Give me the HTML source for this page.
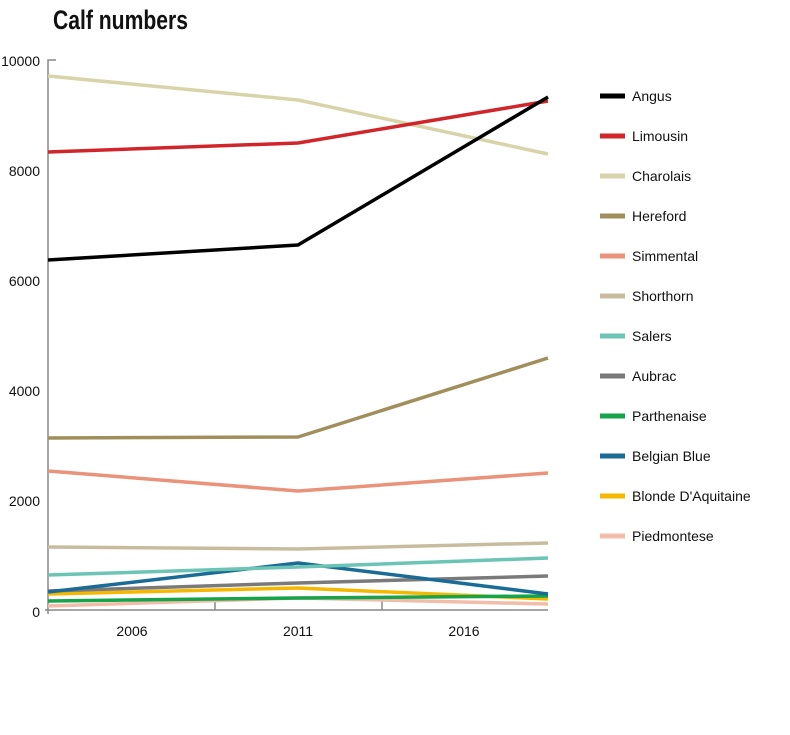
<!DOCTYPE html>
<html><head><meta charset="utf-8"><style>
body{margin:0;background:#fff;width:790px;height:730px;overflow:hidden}
svg text{font-family:"Liberation Sans Narrow","Liberation Sans",sans-serif}
</style></head><body>
<svg width="790" height="730" viewBox="0 0 790 730" xmlns="http://www.w3.org/2000/svg">
<text x="53" y="29" font-size="27" font-weight="bold" fill="#111" textLength="135" lengthAdjust="spacingAndGlyphs">Calf numbers</text>
<g stroke="#888" stroke-width="1.5" fill="none">
<path d="M56 60 H48 V614"/>
<path d="M45 610 H548"/>
<path d="M215 610 V598 M382 610 V598"/>
</g>
<g font-size="14" fill="#111" text-anchor="end">
<text x="40" y="66">10000</text>
<text x="40" y="176">8000</text>
<text x="40" y="286">6000</text>
<text x="40" y="396">4000</text>
<text x="40" y="506">2000</text>
<text x="40" y="617">0</text>
</g>
<g font-size="14" fill="#111" text-anchor="middle">
<text x="132" y="636">2006</text>
<text x="298" y="636">2011</text>
<text x="464" y="636">2016</text>
</g>
<g fill="none" stroke-width="3.5" stroke-linejoin="round">
<polyline stroke="#f2bca9" points="48,606 298,598 548,604"/>
<polyline stroke="#f5b800" points="48,594 298,588 548,599"/>
<polyline stroke="#17a34a" points="48,601 298,598 548,596"/>
<polyline stroke="#7a7a7a" points="48,591 298,583 548,576"/>
<polyline stroke="#1a6b95" points="48,592 298,563 548,594"/>
<polyline stroke="#6cc4b4" points="48,575 298,567 548,558"/>
<polyline stroke="#c7bc9e" points="48,547 298,549 548,543"/>
<polyline stroke="#e8937a" points="48,471 298,491 548,473"/>
<polyline stroke="#a08f5c" points="48,438 298,437 548,358"/>
<polyline stroke="#d8d3a8" points="48,76 298,100 548,154"/>
<polyline stroke="#d0262b" points="48,152 298,143 548,101"/>
<polyline stroke="#000" points="48,260 298,245 548,97"/>
</g>
<g stroke-width="5">
<line x1="600" x2="625" y1="96" y2="96" stroke="#000"/>
<line x1="600" x2="625" y1="136" y2="136" stroke="#d0262b"/>
<line x1="600" x2="625" y1="176" y2="176" stroke="#d8d3a8"/>
<line x1="600" x2="625" y1="216" y2="216" stroke="#a08f5c"/>
<line x1="600" x2="625" y1="256" y2="256" stroke="#e8937a"/>
<line x1="600" x2="625" y1="296" y2="296" stroke="#c7bc9e"/>
<line x1="600" x2="625" y1="336" y2="336" stroke="#6cc4b4"/>
<line x1="600" x2="625" y1="376" y2="376" stroke="#7a7a7a"/>
<line x1="600" x2="625" y1="416" y2="416" stroke="#17a34a"/>
<line x1="600" x2="625" y1="456" y2="456" stroke="#1a6b95"/>
<line x1="600" x2="625" y1="496" y2="496" stroke="#f5b800"/>
<line x1="600" x2="625" y1="536" y2="536" stroke="#f2bca9"/>
</g>
<g font-size="14" fill="#111">
<text x="632" y="101">Angus</text>
<text x="632" y="141">Limousin</text>
<text x="632" y="181">Charolais</text>
<text x="632" y="221">Hereford</text>
<text x="632" y="261">Simmental</text>
<text x="632" y="301">Shorthorn</text>
<text x="632" y="341">Salers</text>
<text x="632" y="381">Aubrac</text>
<text x="632" y="421">Parthenaise</text>
<text x="632" y="461">Belgian Blue</text>
<text x="632" y="501">Blonde D'Aquitaine</text>
<text x="632" y="541">Piedmontese</text>
</g>
</svg>
</body></html>
